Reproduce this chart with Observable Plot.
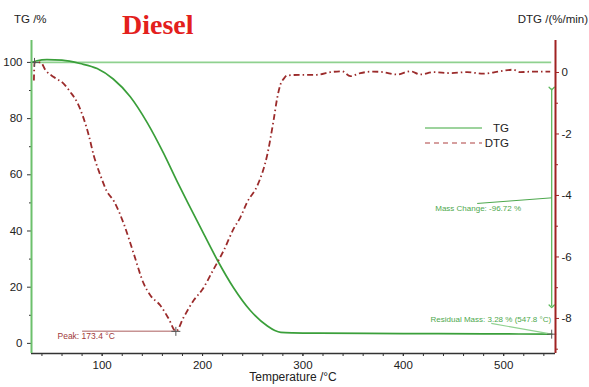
<!DOCTYPE html>
<html>
<head>
<meta charset="utf-8">
<script src="https://cdn.jsdelivr.net/npm/d3@7"></script>
<script src="https://cdn.jsdelivr.net/npm/@observablehq/plot@0.6"></script>
<style>
  body { margin: 0; background: #fff; }
  #chart svg { display: block; font-family: "Liberation Sans", Arial, sans-serif; }
</style>
</head>
<body>
<div id="chart"></div>
<script>
// Thermogravimetric curve (TG, % mass) versus temperature (°C)
const tgTemp = [29.6, 35, 45, 60, 78, 95, 111, 128, 145, 161, 175, 186, 198, 214.8, 230.7, 247.6, 264.6, 272, 278, 290, 317, 400, 480, 547.8];
const tgMass = [100, 100.6, 101.0, 100.8, 99.6, 97.8, 94.1, 87.8, 78.5, 67.8, 57.4, 49.6, 41.2, 29.6, 19.9, 11.7, 6.2, 4.6, 3.95, 3.75, 3.62, 3.5, 3.4, 3.28];

// Derivative curve (DTG, %/min) versus temperature (°C)
const dtgTemp = [32, 32.6, 38.6, 43.6, 51.8, 61.8, 68.4, 75.1, 81.7, 86.7, 91.6, 98.3, 104.3, 112, 121.5, 131.5, 141.4, 148.1, 158, 166.3, 173.4, 181.2, 191.2, 200, 211, 221.1, 231, 237.7, 244.4, 255, 264.3, 270.8, 274.2, 277.5, 281, 284.2, 297.4, 314, 327.3, 338.9, 347.2, 357.2, 370, 380, 393.7, 407, 417, 430, 446.7, 463.7, 479.6, 496.5, 509.5, 516.5, 529.4, 546.3];
const dtgRate = [-0.26, 0.33, 0.33, 0.07, -0.15, -0.37, -0.64, -0.97, -1.51, -2.05, -2.70, -3.35, -3.84, -4.2, -4.92, -5.90, -6.87, -7.25, -7.58, -8.01, -8.42, -7.96, -7.41, -7.05, -6.4, -5.79, -5.08, -4.71, -4.22, -3.65, -2.70, -1.55, -0.86, -0.4, -0.2, -0.1, -0.075, -0.075, 0.01, 0.04, -0.12, -0.02, 0.03, 0.01, -0.065, 0.04, -0.065, 0.01, -0.02, 0.01, -0.04, 0.04, 0.09, 0.01, 0.03, 0.03];

// Axis ticks
const tempTicks = [100, 200, 300, 400, 500];
const tempMinor = d3.range(40, 551, 20);
const tgTicks = [0, 20, 40, 60, 80, 100];
const tgMinor = [10, 30, 50, 70, 90];
const dtgTicks = [0, -2, -4, -6, -8];
const dtgMinor = [-1, -3, -5, -7, -9];

// Evaluation results
const peakTemp = 173.4, peakRate = -8.42;
const startMass = 100, massChange = -96.72;
const residualMass = 3.28, residualTemp = 547.8;

// Scale domains (DTG is drawn on the TG scale through a linear mapping)
const tempDomain = [29.6, 551.6];
const tgDomain = [-3.6, 107.8];
const dtgDomain = [-9.14, 1.04];
const toTG = d => tgDomain[0] + (d - dtgDomain[0]) / (dtgDomain[1] - dtgDomain[0]) * (tgDomain[1] - tgDomain[0]);
const fromTG = v => dtgDomain[0] + (v - tgDomain[0]) / (tgDomain[1] - tgDomain[0]) * (dtgDomain[1] - dtgDomain[0]);

const tgData = tgTemp.map((t, i) => ({t, v: tgMass[i]}));
const dtgData = dtgTemp.map((t, i) => ({t, v: toTG(dtgRate[i])}));

const green = "#3a9f3a", greenLight = "#8fd18f", greenAxis = "#6cc06c", greenNote = "#4da84d";
const red = "#9b2b2b", redAxis = "#a02222";
const font = "'Liberation Sans', Arial, sans-serif";

const residualEnd = startMass + massChange; // 3.28

const svg = Plot.plot({
  width: 589,
  height: 387,
  marginLeft: 31,
  marginRight: 34,
  marginTop: 40,
  marginBottom: 34,
  style: {fontFamily: font, background: "#fff", overflow: "visible"},
  x: {domain: tempDomain},
  y: {domain: tgDomain},
  marks: [
    // 100 % reference line
    Plot.ruleY([startMass], {x1: tempDomain[0], x2: residualTemp, stroke: greenLight, strokeWidth: 1.6}),
    // curves
    Plot.line(tgData, {x: "t", y: "v", stroke: green, strokeWidth: 1.7, curve: "monotone-x"}),
    Plot.line(dtgData, {x: "t", y: "v", stroke: red, strokeWidth: 1.8, strokeLinecap: "butt", strokeDasharray: "6,3,1.5,3", curve: "monotone-x"}),
    // peak annotation
    Plot.ruleY([toTG(peakRate)], {x1: 80.5, x2: peakTemp, stroke: "#c79393", strokeWidth: 1.5}),
    Plot.text([`Peak: ${peakTemp} °C`], {x: 55.5, y: toTG(-8.59), text: d => d, textAnchor: "start", fill: "#a03a3a", fontSize: 8.5}),
    Plot.dot([[peakTemp, toTG(peakRate)]], {x: d => d[0], y: d => d[1], symbol: "plus", r: 3, stroke: "#555", strokeWidth: 1}),
    // mass change annotation
    Plot.link([[residualTemp, 90.7, residualTemp, 13.2]], {x1: d => d[0], y1: d => d[1], x2: d => d[2], y2: d => d[3], stroke: "#5cb85c", strokeWidth: 1.3, markerStart: "arrow", markerEnd: "arrow"}),
    Plot.link([[473.6, 49.8, residualTemp, 51.8]], {x1: d => d[0], y1: d => d[1], x2: d => d[2], y2: d => d[3], stroke: greenNote, strokeWidth: 1}),
    Plot.text([`Mass Change: ${massChange} %`], {x: 431.8, y: 48.0, text: d => d, textAnchor: "start", fill: greenNote, fontSize: 8}),
    // residual mass annotation
    Plot.link([[487.6, 7.1, residualTemp, residualEnd]], {x1: d => d[0], y1: d => d[1], x2: d => d[2], y2: d => d[3], stroke: greenLight, strokeWidth: 1.2}),
    Plot.text([`Residual Mass: ${residualMass} % (${residualTemp} °C)`], {x: 547.3, y: 8.6, text: d => d, textAnchor: "end", fill: greenNote, fontSize: 8}),
    Plot.dot([[residualTemp, residualMass], [32.6, startMass]], {x: d => d[0], y: d => d[1], symbol: "plus", r: 3, stroke: "#555", strokeWidth: 1}),
    // axes
    Plot.axisX({ticks: tempMinor, tickSize: 3, tickFormat: () => "", stroke: "#333", label: null}),
    Plot.axisX({ticks: tempTicks, tickSize: 3, tickPadding: 4, fontSize: 11.5, fill: "#222", stroke: "#333", label: null}),
    Plot.axisY({ticks: tgMinor, tickSize: 2, tickFormat: () => "", stroke: "#333", anchor: "left", label: null}),
    Plot.axisY({ticks: tgTicks, tickSize: 4, tickPadding: 5, fontSize: 11.5, fill: "#222", stroke: "#333", anchor: "left", label: null}),
    Plot.axisY({ticks: dtgMinor.map(toTG), tickSize: 2, tickFormat: () => "", stroke: redAxis, anchor: "right", label: null}),
    Plot.axisY({ticks: dtgTicks.map(toTG), tickSize: 3, tickPadding: 3, tickFormat: v => String(Math.round(fromTG(v))), fontSize: 11.5, fill: "#222", stroke: redAxis, anchor: "right", label: null}),
    Plot.ruleY([tgDomain[0]], {stroke: "#333", strokeWidth: 1.5}),
    Plot.ruleX([tempDomain[0]], {stroke: greenAxis, strokeWidth: 2}),
    Plot.ruleX([tempDomain[1]], {stroke: redAxis, strokeWidth: 2})
  ]
});

const s = d3.select(svg);
// titles and axis labels
s.append("text").attr("x", 122).attr("y", 34).attr("text-anchor", "start").text("Diesel")
  .attr("font-family", "'Liberation Serif', 'Times New Roman', serif").attr("font-weight", "bold")
  .attr("font-size", 28).attr("fill", "#e3201c");
s.append("text").attr("x", 14).attr("y", 23).attr("text-anchor", "start").text("TG /%")
  .attr("font-size", 11.5).attr("fill", "#222");
s.append("text").attr("x", 588).attr("y", 23).attr("text-anchor", "end").text("DTG /(%/min)")
  .attr("font-size", 11.5).attr("fill", "#222");
s.append("text").attr("x", 293).attr("y", 381).attr("text-anchor", "middle").text("Temperature /°C")
  .attr("font-size", 12).attr("fill", "#222");

// legend
const lg = s.append("g").attr("font-size", 11.5).attr("fill", "#222");
lg.append("line").attr("x1", 425).attr("x2", 482).attr("y1", 128).attr("y2", 128)
  .attr("stroke", "#7cc47c").attr("stroke-width", 1.5);
lg.append("text").attr("x", 509).attr("y", 132).attr("text-anchor", "end").text("TG");
lg.append("line").attr("x1", 425).attr("x2", 482).attr("y1", 143).attr("y2", 143)
  .attr("stroke", "#c98080").attr("stroke-width", 1.5).attr("stroke-dasharray", "5,4");
lg.append("text").attr("x", 509).attr("y", 147).attr("text-anchor", "end").text("DTG");

document.getElementById("chart").appendChild(svg);
</script>
</body>
</html>
